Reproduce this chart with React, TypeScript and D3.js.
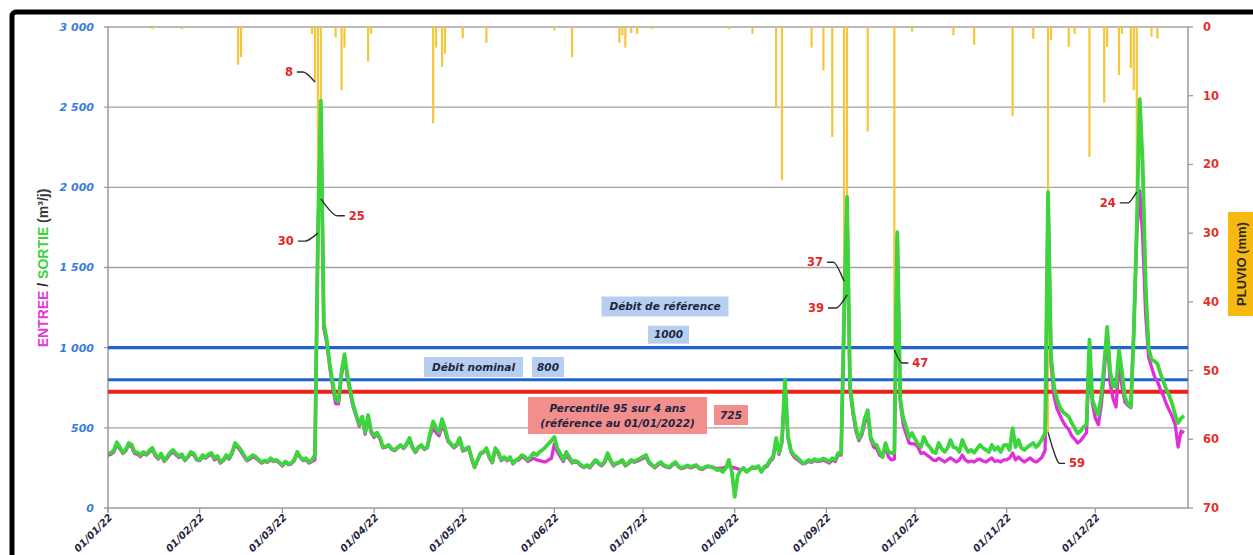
import React, { useEffect, useRef } from 'react';
import * as d3 from 'd3';

// Daily flow, one array per month (m3/j)
const sortieByMonth: number[][] = [
  [340, 345, 360, 410, 380, 345, 365, 405, 395, 350, 345, 330, 350, 335, 360, 375, 335, 312, 340, 295, 320, 345, 362, 340, 323, 335, 300, 320, 350, 340, 305],
  [300, 330, 315, 335, 343, 310, 325, 287, 300, 330, 310, 350, 405, 385, 362, 330, 300, 315, 330, 320, 300, 287, 295, 290, 310, 295, 300, 285],
  [268, 290, 275, 280, 300, 350, 320, 300, 310, 287, 300, 330, 1700, 2540, 1150, 1050, 900, 780, 680, 665, 850, 960, 830, 730, 640, 580, 520, 570, 470, 580, 480],
  [450, 470, 440, 380, 385, 393, 370, 362, 380, 393, 374, 400, 437, 380, 350, 380, 393, 370, 380, 470, 540, 499, 470, 555, 500, 424, 400, 380, 400, 437],
  [362, 370, 380, 312, 256, 300, 343, 350, 374, 320, 287, 374, 350, 300, 318, 300, 318, 280, 300, 310, 330, 320, 300, 320, 343, 330, 350, 362, 380, 400, 420],
  [443, 374, 340, 300, 350, 320, 287, 295, 287, 268, 256, 268, 256, 280, 300, 280, 268, 290, 343, 300, 268, 280, 287, 300, 268, 280, 300, 290, 300, 310],
  [320, 330, 287, 270, 256, 275, 287, 268, 260, 256, 275, 287, 260, 250, 256, 265, 256, 262, 268, 250, 245, 256, 262, 256, 250, 237, 240, 225, 250, 300, 230],
  [70, 200, 237, 250, 225, 240, 256, 250, 262, 225, 256, 268, 300, 320, 437, 343, 420, 800, 450, 362, 330, 318, 300, 280, 285, 300, 290, 305, 295, 300, 310],
  [300, 290, 310, 300, 343, 340, 1200, 1940, 760, 610, 500, 430, 470, 560, 610, 443, 400, 393, 350, 318, 405, 350, 343, 345, 1720, 680, 560, 505, 440, 468],
  [430, 400, 380, 443, 400, 380, 350, 343, 405, 370, 350, 374, 424, 380, 374, 350, 424, 380, 350, 362, 345, 370, 393, 374, 362, 350, 393, 362, 380, 350, 390],
  [393, 362, 498, 380, 424, 374, 362, 380, 393, 405, 380, 400, 430, 470, 1970, 950, 760, 680, 630, 600, 585, 570, 530, 498, 465, 480, 505, 520, 1050, 675],
  [620, 580, 700, 900, 1130, 850, 760, 755, 985, 850, 690, 650, 630, 1100, 1750, 2550, 2150, 1400, 1000, 925, 915, 900, 840, 790, 740, 700, 650, 580, 530, 560, 575],
];

const entreeByMonth: number[][] = [
  [330, 335, 350, 395, 370, 340, 355, 395, 380, 340, 335, 320, 340, 330, 350, 365, 325, 305, 330, 290, 310, 335, 350, 330, 315, 325, 295, 315, 340, 330, 300],
  [295, 320, 310, 325, 335, 300, 315, 280, 295, 320, 305, 340, 395, 375, 350, 320, 295, 305, 320, 310, 295, 280, 290, 285, 300, 290, 295, 280],
  [262, 285, 270, 275, 295, 340, 315, 295, 300, 280, 290, 300, 1650, 2500, 1120, 1030, 880, 760, 650, 650, 830, 940, 810, 710, 625, 570, 510, 560, 460, 565, 470],
  [440, 460, 430, 375, 380, 388, 365, 357, 375, 388, 370, 395, 430, 375, 345, 375, 388, 365, 375, 455, 500, 470, 450, 510, 480, 415, 395, 375, 390, 425],
  [355, 362, 375, 305, 252, 295, 338, 345, 365, 312, 282, 365, 340, 295, 312, 295, 310, 275, 295, 300, 320, 310, 290, 300, 310, 300, 295, 290, 287, 300, 310],
  [400, 350, 320, 290, 330, 305, 280, 288, 282, 262, 252, 262, 250, 275, 293, 275, 262, 283, 330, 292, 262, 275, 282, 292, 262, 275, 292, 285, 292, 300],
  [310, 320, 280, 265, 250, 268, 280, 262, 255, 250, 268, 280, 255, 245, 250, 260, 250, 256, 262, 246, 240, 252, 258, 256, 252, 245, 248, 250, 255, 265, 255],
  [250, 245, 237, 245, 230, 240, 250, 248, 255, 230, 250, 260, 290, 310, 420, 335, 410, 780, 440, 350, 320, 305, 290, 275, 280, 290, 285, 295, 290, 292, 300],
  [290, 280, 300, 290, 330, 330, 1150, 1900, 740, 590, 480, 420, 455, 530, 590, 430, 380, 370, 330, 318, 380, 320, 300, 305, 1700, 660, 520, 460, 405, 400],
  [400, 380, 340, 345, 330, 318, 300, 295, 310, 300, 287, 300, 312, 300, 287, 300, 330, 300, 287, 293, 287, 300, 305, 293, 287, 300, 312, 290, 295, 287, 300],
  [300, 312, 343, 300, 318, 300, 287, 300, 312, 295, 287, 300, 318, 360, 1950, 900, 700, 620, 580, 540, 510, 490, 450, 430, 405, 420, 445, 470, 980, 650],
  [560, 520, 640, 850, 1090, 780, 680, 630, 900, 760, 660, 640, 625, 1100, 1700, 1980, 1700, 1215, 940, 880, 820, 790, 740, 700, 650, 610, 570, 520, 380, 480, 468],
];

// Rain (mm), only days with rain
const pluvio: [string, number][] = [
  ['2022-01-16', 0.3], ['2022-01-26', 0.3],
  ['2022-02-14', 5.5], ['2022-02-15', 4.4],
  ['2022-03-11', 1], ['2022-03-12', 8], ['2022-03-13', 30], ['2022-03-14', 25], ['2022-03-19', 1.5],
  ['2022-03-21', 9.2], ['2022-03-22', 3], ['2022-03-30', 5], ['2022-03-31', 1],
  ['2022-04-21', 14], ['2022-04-22', 3], ['2022-04-24', 5.8], ['2022-04-25', 3.9],
  ['2022-05-01', 1.6], ['2022-05-09', 2.3],
  ['2022-06-01', 0.5], ['2022-06-07', 4.4], ['2022-06-23', 2.3], ['2022-06-24', 1.2], ['2022-06-25', 3],
  ['2022-06-27', 0.9], ['2022-06-29', 1],
  ['2022-07-04', 0.3], ['2022-07-30', 0.3],
  ['2022-08-07', 1], ['2022-08-15', 11.8], ['2022-08-17', 22.3], ['2022-08-27', 3], ['2022-08-31', 6.3],
  ['2022-09-03', 16], ['2022-09-07', 37], ['2022-09-08', 39], ['2022-09-15', 15.2], ['2022-09-24', 47], ['2022-09-30', 0.7],
  ['2022-10-14', 1.2], ['2022-10-21', 2.6],
  ['2022-11-03', 13], ['2022-11-10', 1.7], ['2022-11-15', 59], ['2022-11-16', 1.9], ['2022-11-22', 2.9],
  ['2022-11-24', 1], ['2022-11-29', 18.9],
  ['2022-12-04', 11], ['2022-12-05', 2.9], ['2022-12-09', 7], ['2022-12-10', 1], ['2022-12-13', 6],
  ['2022-12-14', 9.2], ['2022-12-15', 24], ['2022-12-20', 1.4], ['2022-12-22', 1.7],
];

// rain days whose value is written on the chart
const labelledRainDays = ['2022-03-12', '2022-03-13', '2022-03-14', '2022-09-07', '2022-09-08', '2022-09-24', '2022-11-15', '2022-12-15'];

const debitTicks = [0, 500, 1000, 1500, 2000, 2500, 3000];
const debitTickLabels = ['0', '500', '1 000', '1 500', '2 000', '2 500', '3 000'];
const pluvioTicks = [0, 10, 20, 30, 40, 50, 60, 70];

const debitReference = 1000;
const debitNominal = 800;
const percentile95 = 725;

const App = () => {
  const ref = useRef<SVGSVGElement>(null);

  useEffect(() => {
    const width = 1253;
    const height = 555;
    const left = 108;
    const right = 1187;
    const top = 27;
    const bottom = 508;

    const toPoints = (months: number[][]) =>
      months.flatMap((vals, m) => vals.map((v, k) => ({ date: new Date(2022, m, k + 1), value: v })));
    const sortie = toPoints(sortieByMonth);
    const entree = toPoints(entreeByMonth);
    const parse = d3.timeParse('%Y-%m-%d');
    const rain = pluvio.map(([d, mm]) => ({ date: parse(d)!, mm }));

    const x = d3.scaleTime().domain([new Date(2022, 0, 1), new Date(2023, 0, 1)]).range([left, right]);
    const y = d3.scaleLinear().domain([0, 3000]).range([bottom, top]);
    const yRain = d3.scaleLinear().domain([0, 70]).range([top, bottom]);

    const svg = d3.select(ref.current);
    svg.selectAll('*').remove();
    svg.attr('width', width).attr('height', height).attr('viewBox', [0, 0, width, height]);

    svg.append('rect').attr('width', width).attr('height', height).attr('fill', 'white');
    // black frame of the screenshot
    svg.append('rect')
      .attr('x', 12).attr('y', 12).attr('width', 1400).attr('height', 700).attr('rx', 4)
      .attr('fill', 'none').attr('stroke', '#000').attr('stroke-width', 5);

    // grid
    svg.append('g')
      .selectAll('line')
      .data(debitTicks.filter(d => d > 0))
      .join('line')
      .attr('x1', left - 4).attr('x2', right + 1)
      .attr('y1', d => y(d)).attr('y2', d => y(d))
      .attr('stroke', '#a3a3a3').attr('stroke-width', 1.4);

    // rain bars hanging from the top
    svg.append('g')
      .selectAll('line')
      .data(rain)
      .join('line')
      .attr('x1', d => x(d.date)).attr('x2', d => x(d.date))
      .attr('y1', yRain(0)).attr('y2', d => yRain(d.mm))
      .attr('stroke', '#f5c63c').attr('stroke-width', 2.2);

    // axes
    const axisColor = '#9a9a9a';
    svg.append('line').attr('x1', left).attr('x2', left).attr('y1', top).attr('y2', bottom + 4)
      .attr('stroke', axisColor).attr('stroke-width', 1.5);
    svg.append('line').attr('x1', right + 1).attr('x2', right + 1).attr('y1', top).attr('y2', bottom)
      .attr('stroke', axisColor).attr('stroke-width', 1.5);
    svg.append('line').attr('x1', left - 4).attr('x2', right + 1).attr('y1', bottom).attr('y2', bottom)
      .attr('stroke', axisColor).attr('stroke-width', 1.5);
    svg.append('g').selectAll('line').data(pluvioTicks).join('line')
      .attr('x1', right + 1).attr('x2', right + 6)
      .attr('y1', d => yRain(d)).attr('y2', d => yRain(d))
      .attr('stroke', axisColor).attr('stroke-width', 1.3);
    const months = x.ticks(d3.timeMonth.every(1)!).filter(d => d < new Date(2023, 0, 1));
    svg.append('g').selectAll('line').data(months).join('line')
      .attr('x1', d => x(d)).attr('x2', d => x(d))
      .attr('y1', bottom).attr('y2', bottom + 5)
      .attr('stroke', axisColor).attr('stroke-width', 1.3);

    // reference levels
    const refs = [
      { v: debitReference, c: '#1f62d4', w: 3.4 },
      { v: debitNominal, c: '#1f62d4', w: 3 },
      { v: percentile95, c: '#ea2218', w: 3.8 },
    ];
    svg.append('g').selectAll('line').data(refs).join('line')
      .attr('x1', left).attr('x2', right + 1)
      .attr('y1', d => y(d.v)).attr('y2', d => y(d.v))
      .attr('stroke', d => d.c).attr('stroke-width', d => d.w);

    const line = d3.line<{ date: Date; value: number }>()
      .x(d => x(d.date))
      .y(d => y(d.value));

    svg.append('path').attr('d', line(entree)).attr('fill', 'none')
      .attr('stroke', '#e02fd8').attr('stroke-width', 3.3).attr('stroke-linejoin', 'round');
    svg.append('path').attr('d', line(sortie)).attr('fill', 'none')
      .attr('stroke', '#3dd53d').attr('stroke-width', 3.8).attr('stroke-linejoin', 'round');

    // labelled boxes
    const boxFont = 'DejaVu Sans, Verdana, sans-serif';
    const box = (cx: number, cy: number, w: number, h: number, fill: string, lines: string[]) => {
      const g = svg.append('g');
      g.append('rect').attr('x', cx - w / 2).attr('y', cy - h / 2).attr('width', w).attr('height', h).attr('fill', fill);
      lines.forEach((t, i) => {
        g.append('text')
          .attr('x', cx).attr('y', cy + (i - (lines.length - 1) / 2) * 15)
          .attr('dy', '0.35em')
          .attr('text-anchor', 'middle')
          .attr('font-family', boxFont).attr('font-size', 10.5)
          .attr('font-weight', 'bold').attr('font-style', 'italic')
          .attr('fill', '#1e2540')
          .text(t);
      });
    };
    const blue = '#b6cff1';
    const pink = '#f28f8d';
    box(665, 306.5, 127, 20, blue, ['Débit de référence']);
    box(668.5, y(debitReference) - 13, 41, 18, blue, [String(debitReference)]);
    box(473.5, 367, 99, 20, blue, ['Débit nominal']);
    box(548, 367, 32, 20, blue, [String(debitNominal)]);
    box(617.5, 415.5, 179, 37, pink, ['Percentile 95 sur 4 ans', '(référence au 01/01/2022)']);
    box(731, 415, 34, 20, pink, [String(percentile95)]);

    // rain value annotations with leader lines
    const leaders: { ex: number; ey: number; hx: number; side: number }[] = [
      { ex: -12, ey: -10, hx: -6, side: -1 },
      { ex: -13, ey: 8, hx: -7, side: -1 },
      { ex: 17, ey: 17, hx: 7, side: 1 },
      { ex: -11, ey: -19, hx: -6, side: -1 },
      { ex: -11, ey: 13, hx: -8, side: -1 },
      { ex: 8, ey: 13, hx: 6, side: 1 },
      { ex: 12, ey: 31, hx: 5, side: 1 },
      { ex: -9, ey: 11, hx: -8, side: -1 },
    ];
    const ann = svg.append('g');
    labelledRainDays.forEach((day, i) => {
      const r = rain.find(d => d3.timeFormat('%Y-%m-%d')(d.date) === day)!;
      const px = x(r.date);
      const py = yRain(r.mm);
      const l = leaders[i];
      const path = d3.path();
      path.moveTo(px, py);
      path.quadraticCurveTo(px + l.ex * 0.75, py + l.ey * 1.05, px + l.ex, py + l.ey);
      path.lineTo(px + l.ex + l.hx, py + l.ey);
      ann.append('path').attr('d', path.toString()).attr('fill', 'none')
        .attr('stroke', '#2a2a2a').attr('stroke-width', 1.4);
      ann.append('text')
        .attr('x', px + l.ex + l.hx + l.side * 4)
        .attr('y', py + l.ey)
        .attr('dy', '0.35em')
        .attr('text-anchor', l.side < 0 ? 'end' : 'start')
        .attr('font-family', boxFont).attr('font-size', 11.5).attr('font-weight', 'bold')
        .attr('fill', '#e3262a')
        .text(String(r.mm));
    });

    // left tick labels
    svg.append('g').selectAll('text').data(debitTicks).join('text')
      .attr('x', 94).attr('y', d => y(d)).attr('dy', '0.35em')
      .attr('text-anchor', 'end')
      .attr('font-family', boxFont).attr('font-size', 11)
      .attr('font-style', 'italic').attr('font-weight', 'bold')
      .attr('fill', '#3b7ad9')
      .text((d, i) => debitTickLabels[i]);

    // right tick labels
    svg.append('g').selectAll('text').data(pluvioTicks).join('text')
      .attr('x', 1203).attr('y', d => yRain(d)).attr('dy', '0.35em')
      .attr('font-family', boxFont).attr('font-size', 11.5).attr('font-weight', 'bold')
      .attr('fill', '#e3312d')
      .text(d => String(d));

    // month labels
    const fmt = d3.timeFormat('%d/%m/%y');
    svg.append('g').selectAll('text').data(months).join('text')
      .attr('transform', d => `translate(${x(d) + 5},${bottom + 10}) rotate(-45)`)
      .attr('text-anchor', 'end')
      .attr('font-family', boxFont).attr('font-size', 10)
      .attr('font-style', 'italic').attr('font-weight', 'bold')
      .attr('fill', '#1e2540')
      .text(d => fmt(d));

    // left title
    const title = svg.append('text')
      .attr('transform', 'translate(48,268) rotate(-90)')
      .attr('text-anchor', 'middle')
      .attr('font-family', 'Liberation Sans, Arial, sans-serif')
      .attr('font-size', 14).attr('font-weight', 'bold');
    title.append('tspan').attr('fill', '#e23ad6').text('ENTREE');
    title.append('tspan').attr('fill', '#222').text(' / ');
    title.append('tspan').attr('fill', '#3fd13f').text('SORTIE');
    title.append('tspan').attr('fill', '#3a3a3a').text(' (m³/j)');

    // right title
    svg.append('rect').attr('x', 1228).attr('y', 212).attr('width', 30).attr('height', 104).attr('fill', '#f6b90f');
    svg.append('text')
      .attr('transform', 'translate(1241,264) rotate(-90)')
      .attr('text-anchor', 'middle').attr('dy', '0.35em')
      .attr('font-family', 'Liberation Sans, Arial, sans-serif')
      .attr('font-size', 13).attr('font-weight', 'bold').attr('fill', '#2a2a2a')
      .text('PLUVIO (mm)');
  }, []);

  return <svg ref={ref} style={{ position: 'absolute', left: 0, top: 0, display: 'block' }} />;
};

export default App;
